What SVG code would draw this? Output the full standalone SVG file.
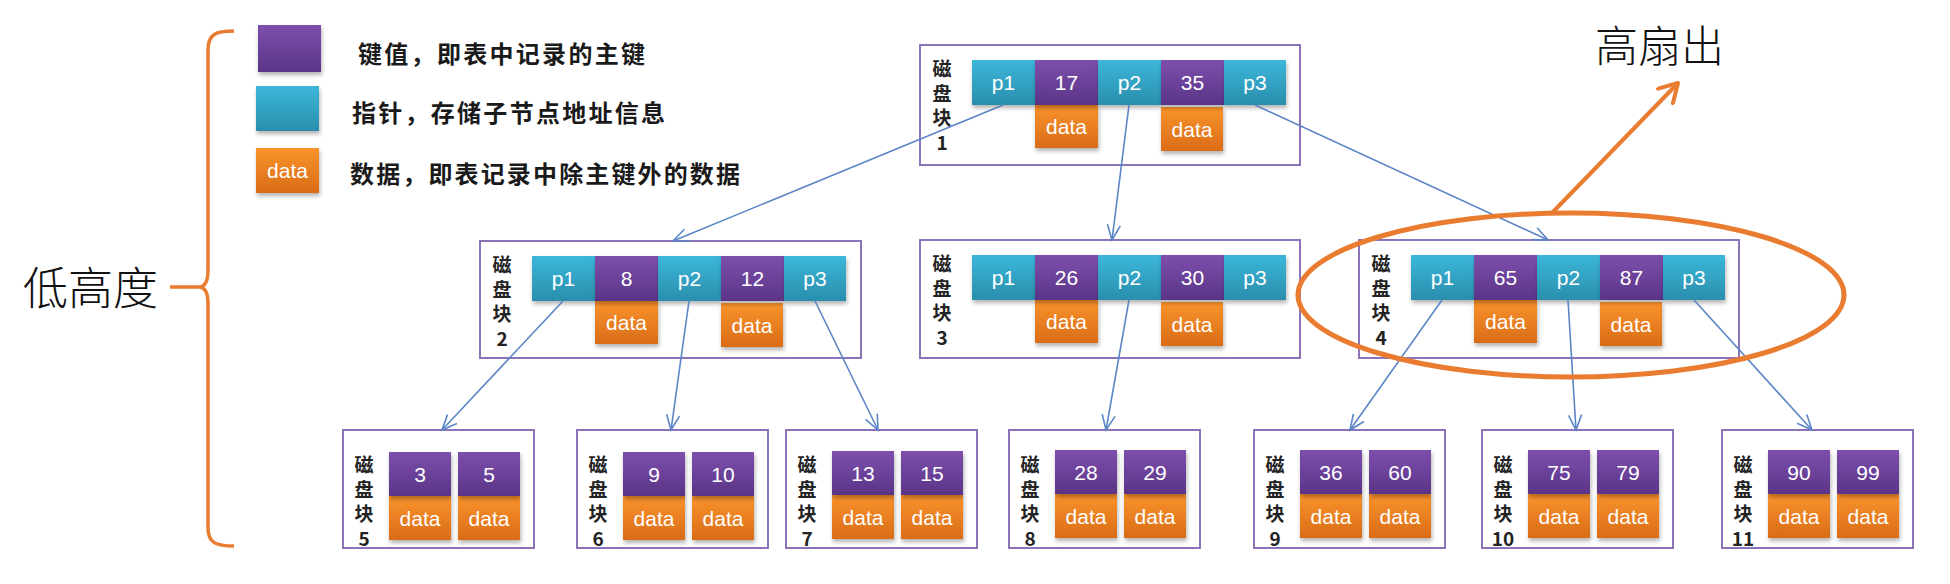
<svg xmlns="http://www.w3.org/2000/svg" width="1950" height="584" viewBox="0 0 1950 584">
<defs>
<linearGradient id="gP" x1="0" y1="0" x2="0" y2="1"><stop offset="0" stop-color="#7D4FAC"/><stop offset="1" stop-color="#5A3487"/></linearGradient>
<linearGradient id="gC" x1="0" y1="0" x2="0" y2="1"><stop offset="0" stop-color="#3CB7D9"/><stop offset="1" stop-color="#2A8EAD"/></linearGradient>
<linearGradient id="gO" x1="0" y1="0" x2="0" y2="1"><stop offset="0" stop-color="#FA932C"/><stop offset="1" stop-color="#D96C17"/></linearGradient>
<filter id="sh" x="-15%" y="-15%" width="135%" height="150%"><feDropShadow dx="1" dy="3" stdDeviation="2" flood-color="#000" flood-opacity="0.3"/></filter>
<marker id="arr" markerUnits="userSpaceOnUse" viewBox="0 0 18 16" markerWidth="18" markerHeight="16" refX="16" refY="8" orient="auto"><path d="M1,1.5 L16,8 L1,14.5" fill="none" stroke="#5B86C6" stroke-width="1.6"/></marker>
<marker id="arrO" markerUnits="userSpaceOnUse" viewBox="0 0 24 24" markerWidth="24" markerHeight="24" refX="20" refY="12" orient="auto"><path d="M2,1.6 L20,12 L2,22.4" fill="none" stroke="#E97C30" stroke-width="4" stroke-linecap="round" stroke-linejoin="round"/></marker>
</defs>
<style>
.box{fill:#fff;stroke:#8C72B8;stroke-width:2}
.p{fill:url(#gP);filter:url(#sh)}
.c{fill:url(#gC);filter:url(#sh)}
.o{fill:url(#gO);filter:url(#sh)}
.t{font-family:"Liberation Sans",Arial,sans-serif;font-size:21px;fill:#fff;text-anchor:middle;dominant-baseline:central}
.lbl{font-family:"Noto Sans CJK SC",sans-serif;font-size:19px;font-weight:700;fill:#222;text-anchor:middle;dominant-baseline:central}
.leg{font-family:"Noto Sans CJK SC",sans-serif;font-size:24px;font-weight:700;fill:#1a1a1a;dominant-baseline:central}
.big{font-family:"Noto Sans CJK SC",sans-serif;font-weight:300;fill:#111;dominant-baseline:central}
.conn line{stroke:#5B86C6;stroke-width:1.6;marker-end:url(#arr)}
.or{fill:none;stroke:#E97C30}
</style>
<rect width="1950" height="584" fill="#fff"/>

<g id="legend">
<rect class="p" x="258" y="25" width="63" height="47"/>
<rect class="c" x="256" y="86" width="63" height="45"/>
<rect class="o" x="256" y="148" width="63" height="45"/>
<text class="t" x="287.5" y="170.5">data</text>
<text class="leg" x="358" y="52" textLength="287" lengthAdjust="spacing">键值，即表中记录的主键</text>
<text class="leg" x="352" y="111" textLength="313" lengthAdjust="spacing">指针，存储子节点地址信息</text>
<text class="leg" x="350" y="172" textLength="390" lengthAdjust="spacing">数据，即表记录中除主键外的数据</text>
</g>

<g id="low-height">
<path class="or" stroke-width="3.5" d="M234,31 C216,31 208,34 208,50 L208,270 C208,282 205,287 199,287 C205,287 208,292 208,304 L208,528 C208,543 216,546 234,546 M170,287 L200,287"/>
<text class="big" x="23" y="285" font-size="45">低高度</text>
</g>

<g id="node1">
<rect class="box" x="920" y="45" width="380" height="120"/>
<text class="lbl"><tspan x="942" y="67">磁</tspan><tspan x="942" y="91.5">盘</tspan><tspan x="942" y="116">块</tspan><tspan x="942" y="140.5">1</tspan></text>
<rect class="o" x="1035" y="105" width="63" height="43"/><text class="t" x="1066.5" y="126.5">data</text>
<rect class="o" x="1161" y="107" width="62" height="44"/><text class="t" x="1192" y="129">data</text>
<rect class="c" x="972" y="60" width="63" height="45"/><text class="t" x="1003.5" y="82.5">p1</text>
<rect class="p" x="1035" y="60" width="63" height="45"/><text class="t" x="1066.5" y="82.5">17</text>
<rect class="c" x="1098" y="60" width="63" height="45"/><text class="t" x="1129.5" y="82.5">p2</text>
<rect class="p" x="1161" y="60" width="63" height="45"/><text class="t" x="1192.5" y="82.5">35</text>
<rect class="c" x="1224" y="60" width="62" height="45"/><text class="t" x="1255" y="82.5">p3</text>
</g>

<g id="node2">
<rect class="box" x="480" y="241" width="381" height="117"/>
<text class="lbl"><tspan x="502" y="263">磁</tspan><tspan x="502" y="287.5">盘</tspan><tspan x="502" y="312">块</tspan><tspan x="502" y="336.5">2</tspan></text>
<rect class="o" x="595" y="301" width="63" height="43"/><text class="t" x="626.5" y="322.5">data</text>
<rect class="o" x="721" y="303" width="62" height="44"/><text class="t" x="752" y="325">data</text>
<rect class="c" x="532" y="256" width="63" height="45"/><text class="t" x="563.5" y="278.5">p1</text>
<rect class="p" x="595" y="256" width="63" height="45"/><text class="t" x="626.5" y="278.5">8</text>
<rect class="c" x="658" y="256" width="63" height="45"/><text class="t" x="689.5" y="278.5">p2</text>
<rect class="p" x="721" y="256" width="63" height="45"/><text class="t" x="752.5" y="278.5">12</text>
<rect class="c" x="784" y="256" width="62" height="45"/><text class="t" x="815" y="278.5">p3</text>
</g>

<g id="node3">
<rect class="box" x="920" y="240" width="380" height="118"/>
<text class="lbl"><tspan x="942" y="262">磁</tspan><tspan x="942" y="286.5">盘</tspan><tspan x="942" y="311">块</tspan><tspan x="942" y="335.5">3</tspan></text>
<rect class="o" x="1035" y="300" width="63" height="43"/><text class="t" x="1066.5" y="321.5">data</text>
<rect class="o" x="1161" y="302" width="62" height="44"/><text class="t" x="1192" y="324">data</text>
<rect class="c" x="972" y="255" width="63" height="45"/><text class="t" x="1003.5" y="277.5">p1</text>
<rect class="p" x="1035" y="255" width="63" height="45"/><text class="t" x="1066.5" y="277.5">26</text>
<rect class="c" x="1098" y="255" width="63" height="45"/><text class="t" x="1129.5" y="277.5">p2</text>
<rect class="p" x="1161" y="255" width="63" height="45"/><text class="t" x="1192.5" y="277.5">30</text>
<rect class="c" x="1224" y="255" width="62" height="45"/><text class="t" x="1255" y="277.5">p3</text>
</g>

<g id="node4">
<rect class="box" x="1359" y="240" width="380" height="118"/>
<text class="lbl"><tspan x="1381" y="262">磁</tspan><tspan x="1381" y="286.5">盘</tspan><tspan x="1381" y="311">块</tspan><tspan x="1381" y="335.5">4</tspan></text>
<rect class="o" x="1474" y="300" width="63" height="43"/><text class="t" x="1505.5" y="321.5">data</text>
<rect class="o" x="1600" y="302" width="62" height="44"/><text class="t" x="1631" y="324">data</text>
<rect class="c" x="1411" y="255" width="63" height="45"/><text class="t" x="1442.5" y="277.5">p1</text>
<rect class="p" x="1474" y="255" width="63" height="45"/><text class="t" x="1505.5" y="277.5">65</text>
<rect class="c" x="1537" y="255" width="63" height="45"/><text class="t" x="1568.5" y="277.5">p2</text>
<rect class="p" x="1600" y="255" width="63" height="45"/><text class="t" x="1631.5" y="277.5">87</text>
<rect class="c" x="1663" y="255" width="62" height="45"/><text class="t" x="1694" y="277.5">p3</text>
</g>

<g id="node5">
<rect class="box" x="343" y="430" width="191" height="118"/>
<text class="lbl"><tspan x="364" y="463">磁</tspan><tspan x="364" y="487.5">盘</tspan><tspan x="364" y="512">块</tspan><tspan x="364" y="536.5">5</tspan></text>
<rect class="o" x="389" y="496" width="62" height="44"/><text class="t" x="420" y="518">data</text>
<rect class="o" x="458" y="496" width="62" height="44"/><text class="t" x="489" y="518">data</text>
<rect class="p" x="389" y="452" width="62" height="44"/><text class="t" x="420" y="474">3</text>
<rect class="p" x="458" y="452" width="62" height="44"/><text class="t" x="489" y="474">5</text>
</g>

<g id="node6">
<rect class="box" x="577" y="430" width="191" height="118"/>
<text class="lbl"><tspan x="598" y="463">磁</tspan><tspan x="598" y="487.5">盘</tspan><tspan x="598" y="512">块</tspan><tspan x="598" y="536.5">6</tspan></text>
<rect class="o" x="623" y="496" width="62" height="44"/><text class="t" x="654" y="518">data</text>
<rect class="o" x="692" y="496" width="62" height="44"/><text class="t" x="723" y="518">data</text>
<rect class="p" x="623" y="452" width="62" height="44"/><text class="t" x="654" y="474">9</text>
<rect class="p" x="692" y="452" width="62" height="44"/><text class="t" x="723" y="474">10</text>
</g>

<g id="node7">
<rect class="box" x="786" y="430" width="191" height="118"/>
<text class="lbl"><tspan x="807" y="463">磁</tspan><tspan x="807" y="487.5">盘</tspan><tspan x="807" y="512">块</tspan><tspan x="807" y="536.5">7</tspan></text>
<rect class="o" x="832" y="495" width="62" height="44"/><text class="t" x="863" y="517">data</text>
<rect class="o" x="901" y="495" width="62" height="44"/><text class="t" x="932" y="517">data</text>
<rect class="p" x="832" y="451" width="62" height="44"/><text class="t" x="863" y="473">13</text>
<rect class="p" x="901" y="451" width="62" height="44"/><text class="t" x="932" y="473">15</text>
</g>

<g id="node8">
<rect class="box" x="1009" y="430" width="191" height="118"/>
<text class="lbl"><tspan x="1030" y="463">磁</tspan><tspan x="1030" y="487.5">盘</tspan><tspan x="1030" y="512">块</tspan><tspan x="1030" y="536.5">8</tspan></text>
<rect class="o" x="1055" y="494" width="62" height="44"/><text class="t" x="1086" y="516">data</text>
<rect class="o" x="1124" y="494" width="62" height="44"/><text class="t" x="1155" y="516">data</text>
<rect class="p" x="1055" y="450" width="62" height="44"/><text class="t" x="1086" y="472">28</text>
<rect class="p" x="1124" y="450" width="62" height="44"/><text class="t" x="1155" y="472">29</text>
</g>

<g id="node9">
<rect class="box" x="1254" y="430" width="191" height="118"/>
<text class="lbl"><tspan x="1275" y="463">磁</tspan><tspan x="1275" y="487.5">盘</tspan><tspan x="1275" y="512">块</tspan><tspan x="1275" y="536.5">9</tspan></text>
<rect class="o" x="1300" y="494" width="62" height="44"/><text class="t" x="1331" y="516">data</text>
<rect class="o" x="1369" y="494" width="62" height="44"/><text class="t" x="1400" y="516">data</text>
<rect class="p" x="1300" y="450" width="62" height="44"/><text class="t" x="1331" y="472">36</text>
<rect class="p" x="1369" y="450" width="62" height="44"/><text class="t" x="1400" y="472">60</text>
</g>

<g id="node10">
<rect class="box" x="1482" y="430" width="191" height="118"/>
<text class="lbl"><tspan x="1503" y="463">磁</tspan><tspan x="1503" y="487.5">盘</tspan><tspan x="1503" y="512">块</tspan><tspan x="1503" y="536.5">10</tspan></text>
<rect class="o" x="1528" y="494" width="62" height="44"/><text class="t" x="1559" y="516">data</text>
<rect class="o" x="1597" y="494" width="62" height="44"/><text class="t" x="1628" y="516">data</text>
<rect class="p" x="1528" y="450" width="62" height="44"/><text class="t" x="1559" y="472">75</text>
<rect class="p" x="1597" y="450" width="62" height="44"/><text class="t" x="1628" y="472">79</text>
</g>

<g id="node11">
<rect class="box" x="1722" y="430" width="191" height="118"/>
<text class="lbl"><tspan x="1743" y="463">磁</tspan><tspan x="1743" y="487.5">盘</tspan><tspan x="1743" y="512">块</tspan><tspan x="1743" y="536.5">11</tspan></text>
<rect class="o" x="1768" y="494" width="62" height="44"/><text class="t" x="1799" y="516">data</text>
<rect class="o" x="1837" y="494" width="62" height="44"/><text class="t" x="1868" y="516">data</text>
<rect class="p" x="1768" y="450" width="62" height="44"/><text class="t" x="1799" y="472">90</text>
<rect class="p" x="1837" y="450" width="62" height="44"/><text class="t" x="1868" y="472">99</text>
</g>

<g id="connectors" class="conn">
<line x1="1003" y1="105" x2="673" y2="241"/>
<line x1="1129" y1="105" x2="1112" y2="240"/>
<line x1="1255" y1="105" x2="1548" y2="240"/>
<line x1="563" y1="301" x2="442" y2="430"/>
<line x1="689" y1="301" x2="671" y2="430"/>
<line x1="815" y1="301" x2="878" y2="430"/>
<line x1="1129" y1="300" x2="1106" y2="430"/>
<line x1="1442" y1="300" x2="1350" y2="430"/>
<line x1="1568" y1="300" x2="1576" y2="430"/>
<line x1="1694" y1="300" x2="1812" y2="430"/>
</g>

<g id="high-fanout">
<ellipse class="or" cx="1571" cy="295" rx="273" ry="82" stroke-width="5"/>
<line x1="1552" y1="213" x2="1678" y2="83" stroke="#E97C30" stroke-width="4" marker-end="url(#arrO)"/>
<text class="big" x="1595" y="43" font-size="43">高扇出</text>
</g>
</svg>
